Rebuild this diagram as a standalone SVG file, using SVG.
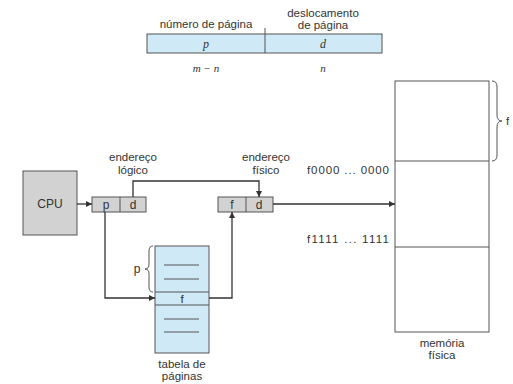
<svg xmlns="http://www.w3.org/2000/svg" width="513" height="384" viewBox="0 0 513 384">
<style>
text{font-family:"Liberation Sans",Arial,sans-serif;font-size:11.5px;fill:#333;text-anchor:middle}
.it{font-family:"Liberation Serif","Times New Roman",serif;font-style:italic;font-size:12px}
.blue{fill:#cfe9f7;stroke:#555;stroke-width:1}
.gray{fill:#d2d2d2;stroke:#555;stroke-width:1}
.ln{fill:none;stroke:#333;stroke-width:1.3}
.thin{fill:none;stroke:#555;stroke-width:1}
</style>
<defs>
<marker id="ah" viewBox="0 0 8 8" refX="8" refY="4" markerWidth="6" markerHeight="6" orient="auto" markerUnits="userSpaceOnUse">
<path d="M0,0 L8,4 L0,8 z" fill="#333"/>
</marker>
</defs>
<g id="address-format">
<rect class="blue" x="147" y="34" width="235" height="19"/>
<line class="thin" x1="265" y1="28" x2="265" y2="53"/>
<text x="206" y="28">número de página</text>
<text x="323" y="17">deslocamento</text>
<text x="323" y="29">de página</text>
<text class="it" x="206" y="48">p</text>
<text class="it" x="323" y="48">d</text>
<text class="it" x="206" y="72" style="font-size:11px">m − n</text>
<text class="it" x="323" y="72" style="font-size:11px">n</text>
</g>
<g id="cpu">
<rect class="gray" x="23" y="171" width="54" height="64"/>
<text x="50" y="208" style="font-size:12px">CPU</text>
</g>
<g id="logical-address">
<rect class="gray" x="92" y="197" width="54" height="15"/>
<line class="thin" x1="120" y1="197" x2="120" y2="212"/>
<text x="106" y="209" style="font-size:12px">p</text>
<text x="133" y="209" style="font-size:12px">d</text>
<text x="133" y="161">endereço</text>
<text x="133" y="174">lógico</text>
</g>
<g id="physical-address">
<rect class="gray" x="218" y="197" width="55" height="15"/>
<line class="thin" x1="246" y1="197" x2="246" y2="212"/>
<text x="232" y="209" style="font-size:12px">f</text>
<text x="259" y="209" style="font-size:12px">d</text>
<text x="266" y="161">endereço</text>
<text x="266" y="174">físico</text>
</g>
<g id="page-table">
<rect class="blue" x="155" y="246" width="54" height="107"/>
<line class="thin" x1="155" y1="292" x2="209" y2="292"/>
<line class="thin" x1="155" y1="305" x2="209" y2="305"/>
<line class="thin" x1="164" y1="265" x2="199" y2="265"/>
<line class="thin" x1="164" y1="279" x2="199" y2="279"/>
<line class="thin" x1="164" y1="319" x2="199" y2="319"/>
<line class="thin" x1="164" y1="332" x2="199" y2="332"/>
<text x="182" y="303">f</text>
<path class="thin" d="M153,246 Q149,246 149,251 L149,264 Q149,269 145,269 Q149,269 149,274 L149,287 Q149,292 153,292"/>
<text x="137" y="273" style="font-size:12px">p</text>
<text x="182" y="368">tabela de</text>
<text x="182" y="380">páginas</text>
</g>
<g id="physical-memory">
<rect x="395" y="81" width="94" height="251" fill="#fff" stroke="#555" stroke-width="1"/>
<line class="thin" x1="395" y1="161" x2="489" y2="161"/>
<line class="thin" x1="395" y1="247" x2="489" y2="247"/>
<path class="thin" d="M492,81 Q497,81 497,87 L497,115 Q497,121 502,121 Q497,121 497,127 L497,155 Q497,161 492,161"/>
<text x="506" y="125" style="text-anchor:start">f</text>
<text x="307" y="174" style="text-anchor:start" textLength="82" lengthAdjust="spacing">f0000 ... 0000</text>
<text x="307" y="243" style="text-anchor:start" textLength="82" lengthAdjust="spacing">f1111 ... 1111</text>
<text x="442" y="347">memória</text>
<text x="442" y="359">física</text>
</g>
<g id="connectors">
<line class="ln" x1="77" y1="204" x2="92" y2="204" marker-end="url(#ah)"/>
<path class="ln" d="M133,197 V181 H259 V197" marker-end="url(#ah)"/>
<path class="ln" d="M105,212 V298 H155" marker-end="url(#ah)"/>
<path class="ln" d="M209,298 H232 V212" marker-end="url(#ah)"/>
<line class="ln" x1="273" y1="204" x2="395" y2="204" marker-end="url(#ah)"/>
</g>
</svg>
